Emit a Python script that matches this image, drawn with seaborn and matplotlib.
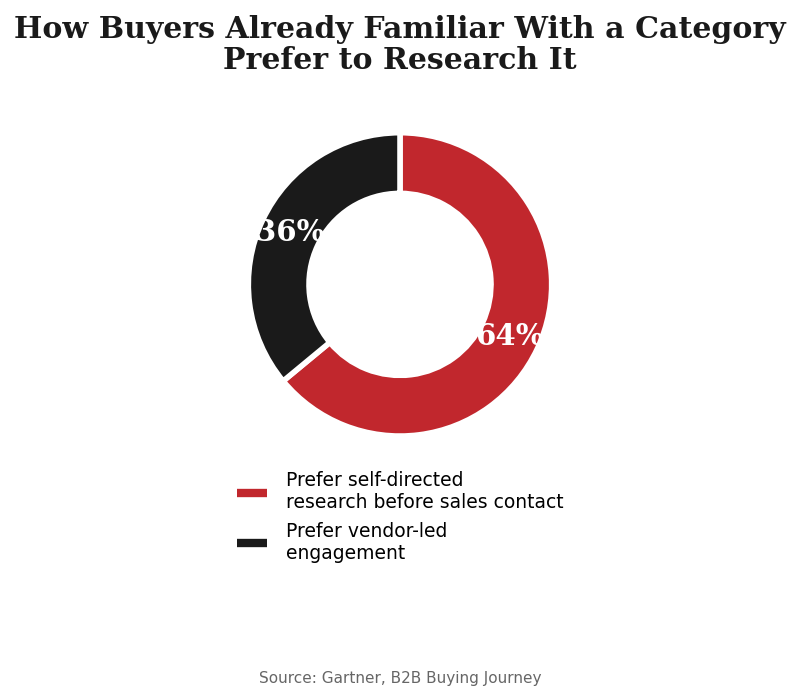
import matplotlib
matplotlib.use("Agg")
import matplotlib.pyplot as plt
import seaborn as sns
from matplotlib.lines import Line2D

sns.set_theme(style="white")
plt.rcParams["font.family"] = ["DejaVu Sans"]

# data
categories = ["Prefer self-directed\nresearch before sales contact",
              "Prefer vendor-led\nengagement"]
shares = [64, 36]
colors = ["#C1272D", "#1A1A1A"]

fig = plt.figure(figsize=(8, 6.97), dpi=100)
ax = fig.add_axes([0.263, 0.320, 0.474, 0.544])

wedges, texts, autotexts = ax.pie(
    shares,
    colors=colors,
    startangle=90,
    counterclock=False,
    autopct="%d%%",
    pctdistance=0.8,
    wedgeprops=dict(width=0.4, edgecolor="white", linewidth=4),
)
for t in autotexts:
    t.set_color("white")
    t.set_fontsize(21)
    t.set_fontweight("bold")
    t.set_family("DejaVu Serif")
ax.set_aspect("equal")

fig.suptitle("How Buyers Already Familiar With a Category\nPrefer to Research It",
             fontsize=21.6, fontweight="bold", family="DejaVu Serif",
             color="#1a1a1a", y=0.978, linespacing=1.08)

handles = [Line2D([0], [0], color=c, lw=6, solid_capstyle="butt") for c in colors]
leg = fig.legend(handles, categories, loc="upper center", bbox_to_anchor=(0.5, 0.348),
                 frameon=False, fontsize=13.5, handlelength=1.6, handletextpad=1.0,
                 labelspacing=0.5)
for t in leg.get_texts():
    t.set_color("black")

fig.text(0.5, 0.02, "Source: Gartner, B2B Buying Journey", ha="center",
         fontsize=11, color="#666666")

fig.savefig("out.png", dpi=100)
